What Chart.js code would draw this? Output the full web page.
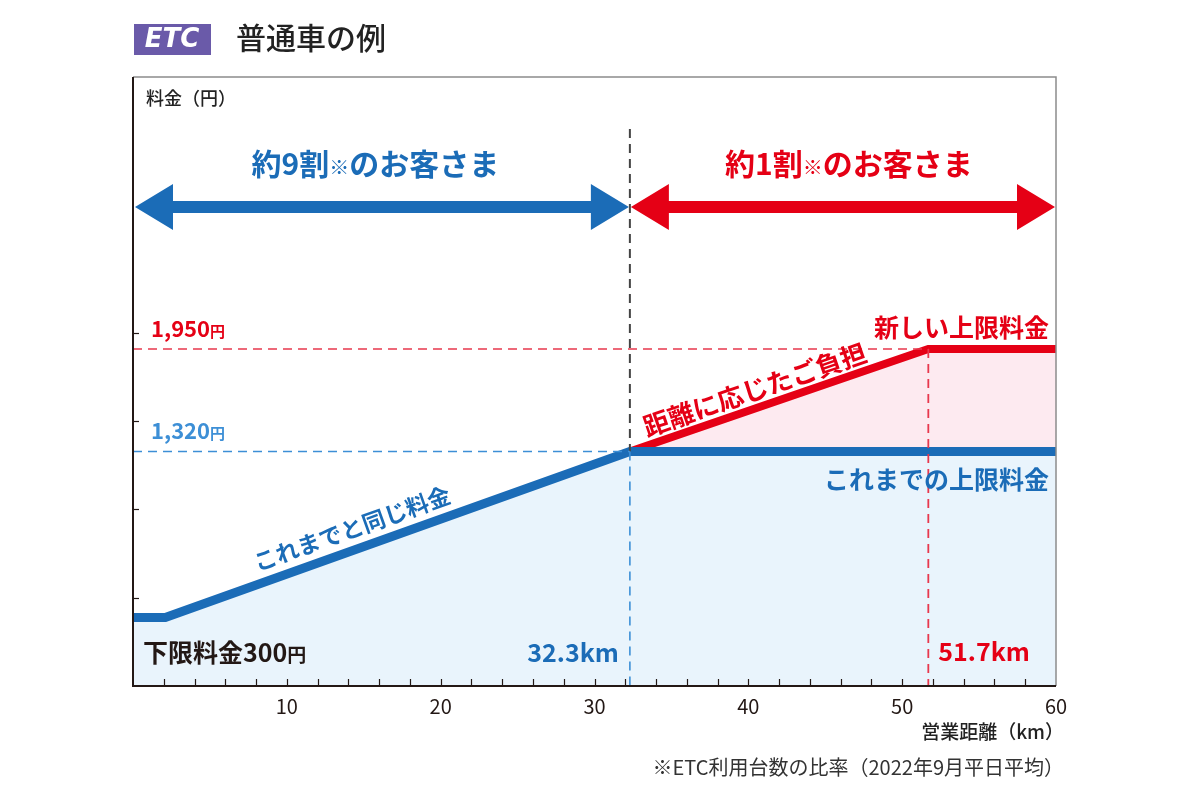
<!DOCTYPE html>
<html>
<head>
<meta charset="utf-8">
<script src="https://cdn.jsdelivr.net/npm/chart.js@4.4.1/dist/chart.umd.min.js"></script>
<style>
  html, body { margin: 0; background: #fff; }
  #wrap { width: 1200px; height: 800px; }
</style>
</head>
<body>
<div id="wrap"><canvas id="fare" width="1200" height="800"></canvas></div>
<script>
// これまでの料金 (km, 円)
const prevKm = [0, 2.1, 32.3, 60];
const prevFare = [300, 300, 1320, 1320];
// 新しい料金
const newKm = [32.3, 51.7, 60];
const newFare = [1320, 1950, 1950];
// 上限に達する距離と上限料金
const breakKm = [32.3, 51.7];
const capFare = [1320, 1950];
const minFare = 300;
const yTickVals = [420, 965, 1510, 2050];

const Y_MIN = -120, Y_MAX = 3620, DIVIDER_TOP = 3300;
const BLUE = '#1b6cb7', LBLUE = '#3d8fd6', RED = '#e50015', LRED = '#e8384d', INK = '#231815';
const JP = '"Noto Sans CJK JP", "Noto Sans", sans-serif';

const pts = (xs, ys) => xs.map((x, i) => ({ x: x, y: ys[i] }));

function runs(ctx, parts, x, y, align) {
  let w = 0;
  parts.forEach(p => { ctx.font = p.f; w += ctx.measureText(p.t).width; });
  let cx = align === 'right' ? x - w : align === 'center' ? x - w / 2 : x;
  ctx.textAlign = 'left';
  ctx.textBaseline = 'alphabetic';
  parts.forEach(p => {
    ctx.font = p.f;
    ctx.fillStyle = p.c;
    ctx.fillText(p.t, cx, y);
    cx += ctx.measureText(p.t).width;
  });
}

function arrow(ctx, x1, x2, y, color) {
  const hl = 38, hh = 23, sh = 6;
  ctx.fillStyle = color;
  ctx.beginPath();
  ctx.moveTo(x1, y);
  ctx.lineTo(x1 + hl, y - hh);
  ctx.lineTo(x1 + hl, y - sh);
  ctx.lineTo(x2 - hl, y - sh);
  ctx.lineTo(x2 - hl, y - hh);
  ctx.lineTo(x2, y);
  ctx.lineTo(x2 - hl, y + hh);
  ctx.lineTo(x2 - hl, y + sh);
  ctx.lineTo(x1 + hl, y + sh);
  ctx.lineTo(x1 + hl, y + hh);
  ctx.closePath();
  ctx.fill();
}

function slopeText(ctx, sx, sy, km1, f1, km2, f2, atKm, off, text, font, color) {
  const x1 = sx.getPixelForValue(km1), y1 = sy.getPixelForValue(f1);
  const x2 = sx.getPixelForValue(km2), y2 = sy.getPixelForValue(f2);
  const a = Math.atan2(y2 - y1, x2 - x1);
  const px = sx.getPixelForValue(atKm);
  const py = y1 + (px - x1) * (y2 - y1) / (x2 - x1);
  ctx.save();
  ctx.translate(px + Math.sin(a) * off, py - Math.cos(a) * off);
  ctx.rotate(a);
  ctx.font = font;
  ctx.fillStyle = color;
  ctx.textAlign = 'center';
  ctx.textBaseline = 'middle';
  ctx.fillText(text, 0, 0);
  ctx.restore();
}

const decor = {
  id: 'decor',
  afterDraw(chart) {
    const ctx = chart.ctx, a = chart.chartArea;
    const sx = chart.scales.x, sy = chart.scales.y;
    ctx.save();

    // frame
    ctx.lineWidth = 1.5;
    ctx.strokeStyle = '#8c8c8c';
    ctx.beginPath();
    ctx.moveTo(a.left, a.top); ctx.lineTo(a.right, a.top); ctx.lineTo(a.right, a.bottom);
    ctx.stroke();
    ctx.lineWidth = 2;
    ctx.strokeStyle = INK;
    ctx.beginPath();
    ctx.moveTo(a.left, a.top); ctx.lineTo(a.left, a.bottom); ctx.lineTo(a.right, a.bottom);
    ctx.stroke();

    // inward ticks
    ctx.lineWidth = 1.2;
    for (let k = 2; k < 60; k += 2) {
      const px = Math.round(sx.getPixelForValue(k)) + 0.5;
      ctx.beginPath(); ctx.moveTo(px, a.bottom); ctx.lineTo(px, a.bottom - 7); ctx.stroke();
    }
    yTickVals.forEach(v => {
      const py = Math.round(sy.getPixelForValue(v)) + 0.5;
      ctx.beginPath(); ctx.moveTo(a.left, py); ctx.lineTo(a.left + 6, py); ctx.stroke();
    });

    // header
    ctx.fillStyle = '#6a5aa9';
    ctx.fillRect(134, 24, 77, 31);
    ctx.fillStyle = '#fff';
    ctx.font = 'italic 900 26px "DejaVu Sans", sans-serif';
    ctx.textAlign = 'center';
    ctx.textBaseline = 'middle';
    ctx.fillText('ETC', 172, 40);
    runs(ctx, [{ t: '普通車の例', f: '500 30px ' + JP, c: '#222' }], 236, 49, 'left');
    runs(ctx, [{ t: '料金（円）', f: '500 18px ' + JP, c: '#222' }], 146, 105, 'left');

    // arrows
    const xa = sx.getPixelForValue(0), xb = sx.getPixelForValue(breakKm[0]), xc = sx.getPixelForValue(60);
    arrow(ctx, xa + 2, xb - 1, 207, BLUE);
    arrow(ctx, xb + 1, xc - 1, 207, RED);
    runs(ctx, [
      { t: '約9割', f: 'bold 30px ' + JP, c: BLUE },
      { t: '※', f: '20px ' + JP, c: BLUE },
      { t: 'のお客さま', f: 'bold 30px ' + JP, c: BLUE }
    ], (xa + xb) / 2 - 6, 175, 'center');
    runs(ctx, [
      { t: '約1割', f: 'bold 30px ' + JP, c: RED },
      { t: '※', f: '20px ' + JP, c: RED },
      { t: 'のお客さま', f: 'bold 30px ' + JP, c: RED }
    ], (xb + xc) / 2 + 6, 175, 'center');

    // cap value labels
    runs(ctx, [{ t: '1,950', f: '600 22px ' + JP, c: RED }, { t: '円', f: '600 15px ' + JP, c: RED }],
      151, sy.getPixelForValue(capFare[1]) - 12, 'left');
    runs(ctx, [{ t: '1,320', f: '600 22px ' + JP, c: LBLUE }, { t: '円', f: '600 15px ' + JP, c: LBLUE }],
      151, sy.getPixelForValue(capFare[0]) - 13, 'left');

    runs(ctx, [{ t: '新しい上限料金', f: 'bold 25px ' + JP, c: RED }], a.right - 7, sy.getPixelForValue(capFare[1]) - 12, 'right');
    runs(ctx, [{ t: 'これまでの上限料金', f: 'bold 25px ' + JP, c: BLUE }], a.right - 7, sy.getPixelForValue(capFare[0]) + 37, 'right');

    slopeText(ctx, sx, sy, newKm[0], newFare[0], newKm[1], newFare[1], 40.8, 18,
      '距離に応じたご負担', 'bold 26px ' + JP, RED);
    slopeText(ctx, sx, sy, prevKm[1], prevFare[1], prevKm[2], prevFare[2], 14.7, 21,
      'これまでと同じ料金', 'bold 23px ' + JP, BLUE);

    runs(ctx, [{ t: '下限料金' + minFare, f: 'bold 25px ' + JP, c: INK }, { t: '円', f: 'bold 19px ' + JP, c: INK }],
      143, 662, 'left');
    runs(ctx, [{ t: breakKm[0] + 'km', f: 'bold 25px ' + JP, c: BLUE }], xb - 11, 662, 'right');
    runs(ctx, [{ t: breakKm[1] + 'km', f: 'bold 25px ' + JP, c: RED }], sx.getPixelForValue(breakKm[1]) + 10, 661, 'left');

    // axis title and note (full-width closing paren carries trailing space)
    runs(ctx, [{ t: '営業距離（km）', f: '500 19px ' + JP, c: '#222' }], a.right + 8, 739, 'right');
    runs(ctx, [{ t: '※ETC利用台数の比率（2022年9月平日平均）', f: '20px ' + JP, c: '#333' }], a.right + 8, 775, 'right');

    ctx.restore();
  }
};

const dashed = (data, color, dash, width) => ({
  data: data, borderColor: color, borderWidth: width, borderDash: dash,
  pointRadius: 0, fill: false, order: 0
});

new Chart(document.getElementById('fare'), {
  type: 'line',
  data: {
    datasets: [
      {
        label: 'これまでの料金',
        data: pts(prevKm, prevFare),
        borderColor: BLUE, borderWidth: 9, borderJoinStyle: 'miter', borderCapStyle: 'butt',
        backgroundColor: '#e9f4fc', fill: 'start', pointRadius: 0, order: 1
      },
      {
        label: '新しい料金',
        data: pts(newKm, newFare),
        borderColor: RED, borderWidth: 8, borderJoinStyle: 'miter', borderCapStyle: 'butt',
        backgroundColor: '#fdeaf0', fill: { target: { value: capFare[0] } }, pointRadius: 0, order: 2
      },
      dashed(pts([0, breakKm[1]], [capFare[1], capFare[1]]), LRED, [9, 6], 1.6),
      dashed(pts([0, breakKm[0]], [capFare[0], capFare[0]]), LBLUE, [9, 6], 1.6),
      dashed(pts([breakKm[0], breakKm[0]], [capFare[0], Y_MIN]), LBLUE, [9, 6], 1.6),
      dashed(pts([breakKm[1], breakKm[1]], [capFare[1], Y_MIN]), LRED, [9, 6], 1.8),
      dashed(pts([breakKm[0], breakKm[0]], [DIVIDER_TOP, capFare[0]]), '#444', [9, 6], 2)
    ]
  },
  options: {
    responsive: false,
    animation: false,
    layout: { padding: { left: 133, right: 144, top: 77, bottom: 0 } },
    plugins: { legend: { display: false }, tooltip: { enabled: false } },
    scales: {
      x: {
        type: 'linear', min: 0, max: 60,
        grid: { display: false, drawTicks: false },
        border: { display: false },
        afterFit: s => { s.height = 114; },
        ticks: {
          stepSize: 2, autoSkip: false, maxRotation: 0, padding: 8,
          color: INK, font: { family: JP, size: 20 },
          callback: v => (v > 0 && v % 10 === 0) ? v : ''
        }
      },
      y: { type: 'linear', min: Y_MIN, max: Y_MAX, display: false }
    }
  },
  plugins: [decor]
});
</script>
</body>
</html>
